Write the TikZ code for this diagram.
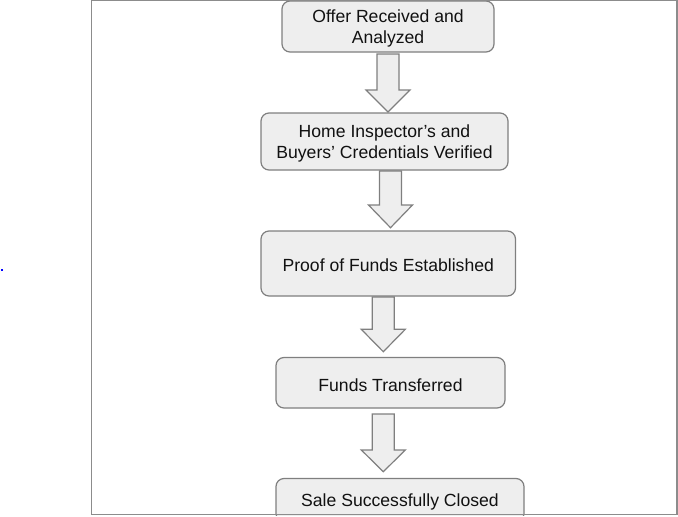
\documentclass[tikz,border=0pt]{standalone}
\usepackage{fontspec}
\setmainfont{Liberation Sans}
\definecolor{boxfill}{HTML}{EEEEEE}
\definecolor{boxline}{HTML}{7F7F7F}
\definecolor{framec}{HTML}{8C8C8C}
\definecolor{txt}{HTML}{111111}
\tikzset{
  stepbox/.style={draw=boxline, fill=boxfill, line width=1.2pt, rounded corners=8pt,
    inner sep=0pt},
  steptext/.style={align=center, text=txt, inner sep=0pt, yshift=-2pt,
    font=\fontsize{17.6}{20.8}\selectfont},
  blockarrow/.style={draw=boxline, fill=boxfill, line width=1.2pt, line join=miter}
}
% \flowarrow{centre x}{shaft top y}{head base y}{tip y}
\newcommand{\flowarrow}[4]{%
  \draw[blockarrow] (#1-11,#2) -- (#1+11,#2) -- (#1+11,#3) -- (#1+22,#3)
    -- (#1,#4) -- (#1-22,#3) -- (#1-11,#3) -- cycle;}
\begin{document}
\begin{tikzpicture}[x=1pt,y=-1pt]
\useasboundingbox (0,0) rectangle (678,517);
% stray blue dot
\fill[blue] (1.3,269.3) rectangle (2.7,270.7);
% boxes
\node[stepbox, minimum width=212pt, minimum height=51pt,
  label={[steptext]center:{Offer Received and\\Analyzed}}] (b1) at (388,26.5) {};
\node[stepbox, minimum width=247pt, minimum height=57pt,
  label={[steptext]center:{Home Inspector’s and\\Buyers’ Credentials Verified}}] (b2) at (384.5,141.5) {};
\node[stepbox, minimum width=254.5pt, minimum height=65pt,
  label={[steptext]center:{Proof of Funds Established}}] (b3) at (388.25,263.5) {};
\node[stepbox, minimum width=229pt, minimum height=50.5pt,
  label={[steptext]center:{Funds Transferred}}] (b4) at (390.5,382.75) {};
\begin{scope}
  \clip (0,0) rectangle (678,515);
  \node[stepbox, minimum width=248pt, minimum height=43pt,
    label={[steptext]center:{Sale Successfully Closed}}] (b5) at (400,500) {};
\end{scope}
% block arrows between boxes
\flowarrow{388}{54}{90}{112}
\flowarrow{390.5}{171}{205}{227.7}
\flowarrow{383.3}{297}{329.3}{351.7}
\flowarrow{383.3}{414}{450}{471.7}
% outer frame
\draw[framec, line width=1.3pt] (91.7,0.8) rectangle (677,514.8);
\end{tikzpicture}
\end{document}
